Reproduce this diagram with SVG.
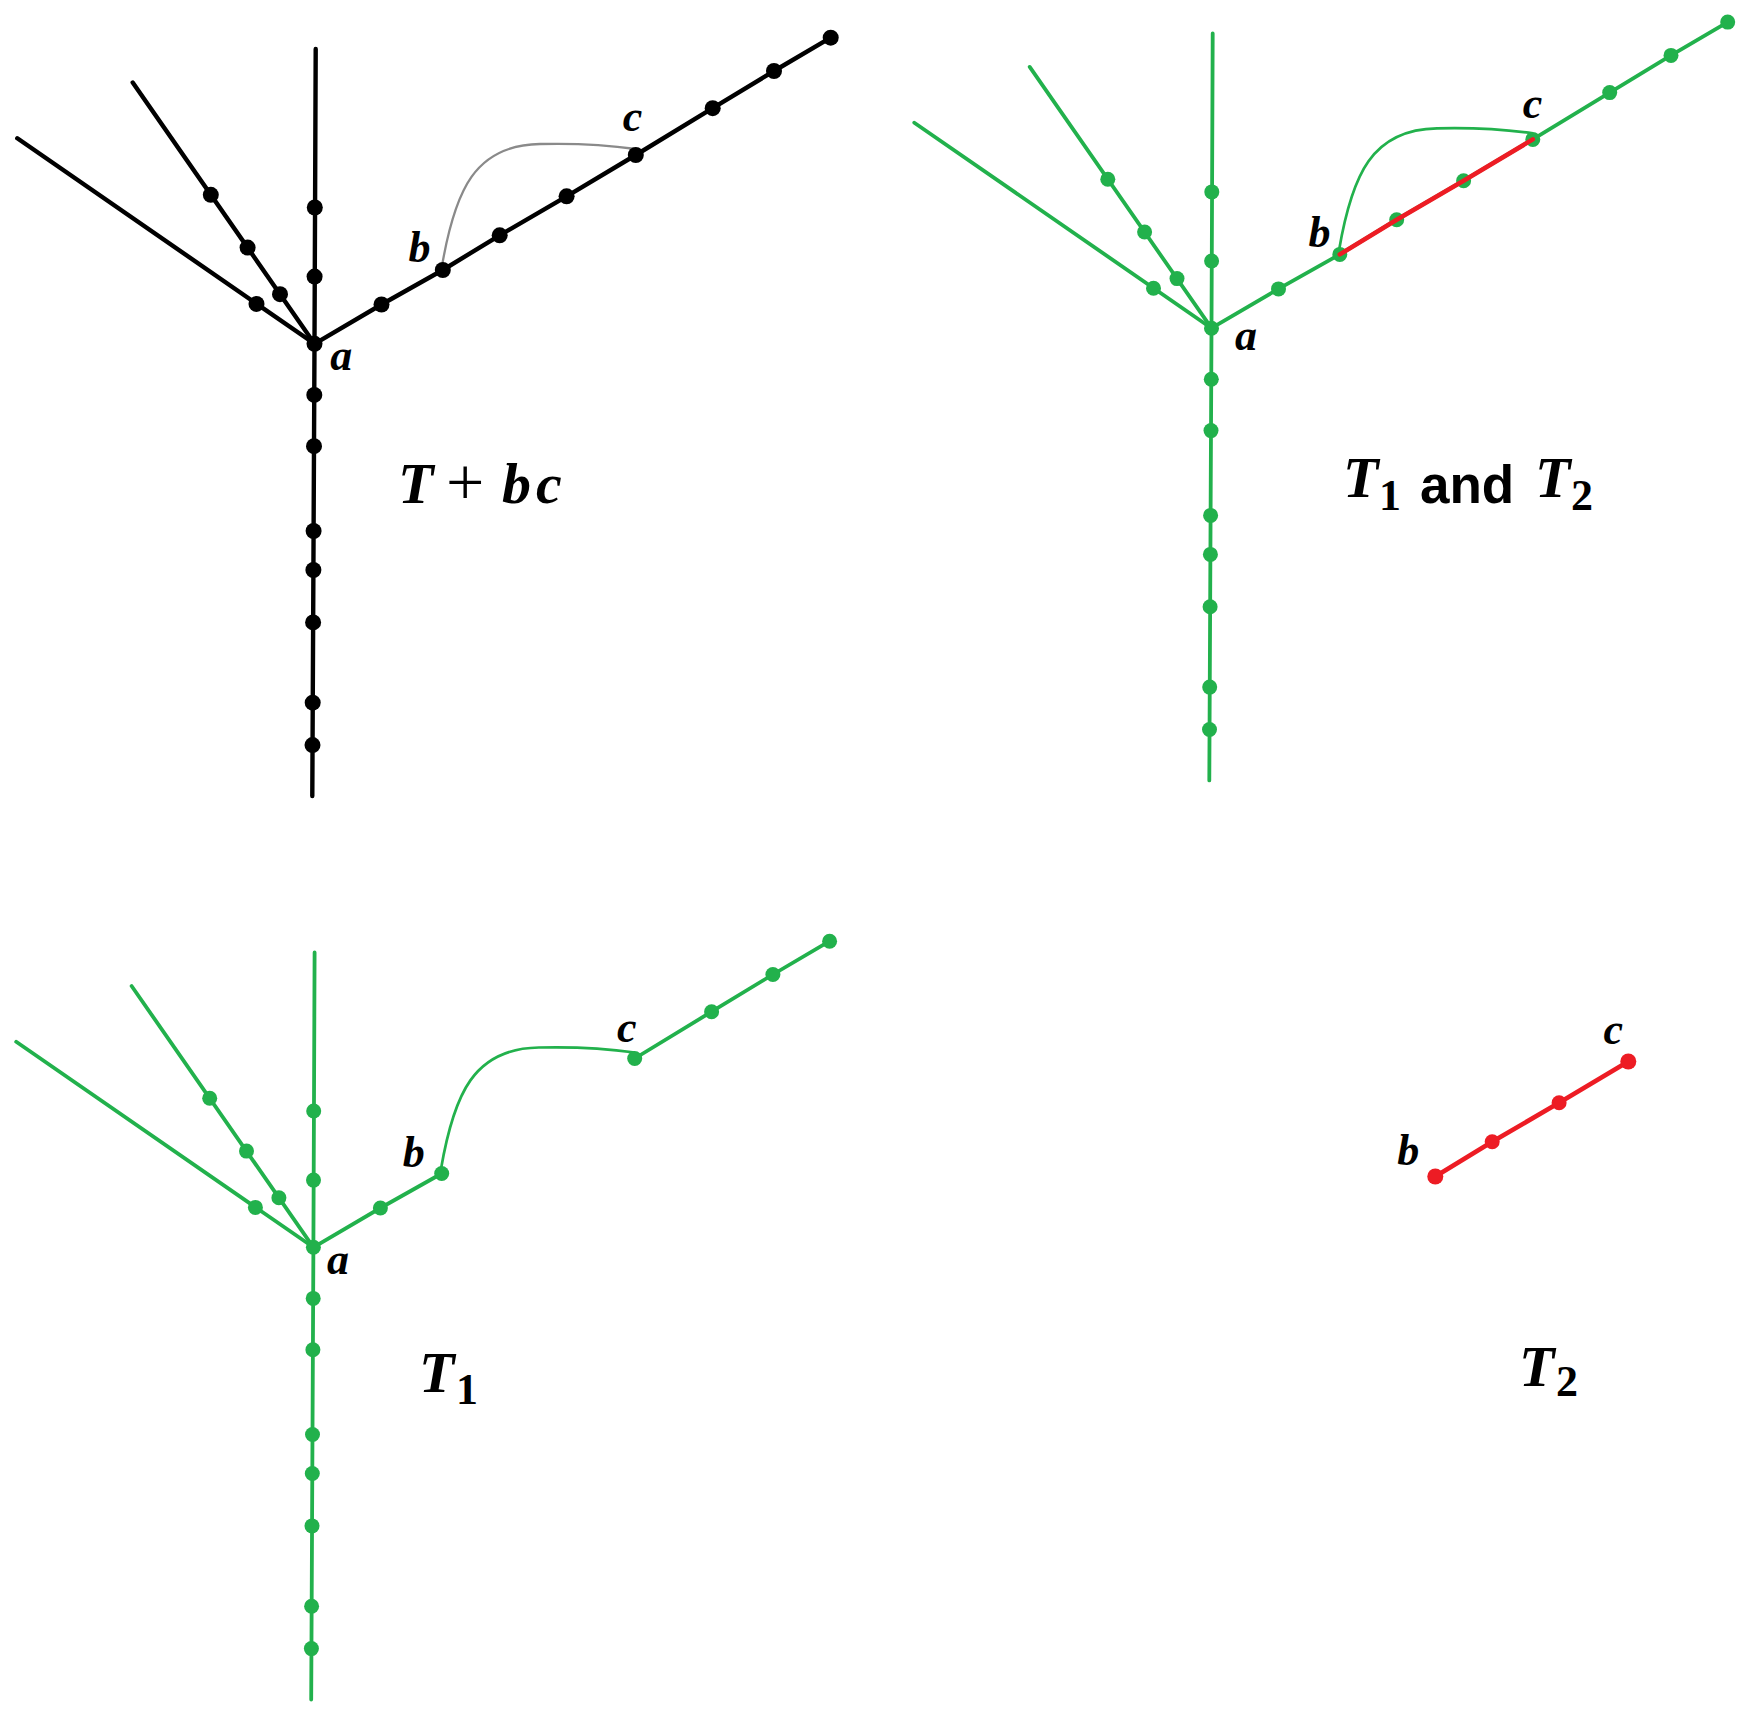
<svg xmlns="http://www.w3.org/2000/svg" width="1749" height="1714" viewBox="0 0 1749 1714">
<style>
.bk{stroke:#000;stroke-width:4.4;fill:none;stroke-linecap:round;stroke-linejoin:round}
.gr{stroke:#22b14c;stroke-width:3.8;fill:none;stroke-linecap:round;stroke-linejoin:round}
.rd{stroke:#ed1c24;stroke-width:4.6;fill:none;stroke-linecap:round;stroke-linejoin:round}
.cgray{stroke:#8a8a8a;stroke-width:2.3;fill:none}
.cgreen{stroke:#22b14c;stroke-width:2.7;fill:none}
.dk circle{fill:#000}
.dg circle{fill:#22b14c}
.dr circle{fill:#ed1c24}
.lbl{font-family:"Liberation Serif",serif;font-style:italic;font-weight:bold;font-size:44px;fill:#000;text-anchor:middle}
.big{font-family:"Liberation Serif",serif;font-style:italic;font-weight:bold;font-size:58px;fill:#000}
.sub{font-family:"Liberation Serif",serif;font-weight:bold;font-size:44px;fill:#000}
.plus{font-family:"Liberation Serif",serif;font-size:68px;fill:#000}
.and{font-family:"Liberation Sans",Arial,sans-serif;font-weight:bold;font-size:53px;fill:#000}
</style>
<rect width="1749" height="1714" fill="#fff"/>

<!-- Panel 1: T + bc -->
<g id="panel1">
 <g id="p1-edges">
  <polyline class="bk" points="315.7,49 314.5,343.8 312.3,796"/>
  <line class="bk" x1="17.3" y1="138.3" x2="314.5" y2="343.8"/>
  <line class="bk" x1="132.7" y1="82.5" x2="314.5" y2="343.8"/>
  <polyline class="bk" points="314.5,343.8 381.5,304.5 442.8,270 499.7,235.3 566.6,196.3 635.8,155 712.7,108.2 774,71 830.7,37.7"/>
  <path class="cgray" d="M442,266 C455,190 475,145 540,144 C580,143 615,146 636,149"/>
 </g>
 <g id="p1-nodes" class="dk">
  <g id="p1-a"><circle cx="314.5" cy="343.8" r="8"/></g>
  <g id="p1-u1"><circle cx="314.8" cy="207.5" r="8"/></g>
  <g id="p1-u2"><circle cx="314.6" cy="276.6" r="8"/></g>
  <g id="p1-d1"><circle cx="314.3" cy="394.9" r="8"/></g>
  <g id="p1-d2"><circle cx="314.0" cy="446.2" r="8"/></g>
  <g id="p1-d3"><circle cx="313.6" cy="531" r="8"/></g>
  <g id="p1-d4"><circle cx="313.4" cy="570" r="8"/></g>
  <g id="p1-d5"><circle cx="313.1" cy="622.4" r="8"/></g>
  <g id="p1-d6"><circle cx="312.7" cy="702.7" r="8"/></g>
  <g id="p1-d7"><circle cx="312.5" cy="745.1" r="8"/></g>
  <g id="p1-l1"><circle cx="256.5" cy="303.9" r="8"/></g>
  <g id="p1-l2a"><circle cx="210.8" cy="194.8" r="8"/></g>
  <g id="p1-l2b"><circle cx="247.6" cy="247.6" r="8"/></g>
  <g id="p1-l2c"><circle cx="280" cy="294.2" r="8"/></g>
  <g id="p1-r1"><circle cx="381.5" cy="304.5" r="8"/></g>
  <g id="p1-b"><circle cx="442.8" cy="270" r="8"/></g>
  <g id="p1-r3"><circle cx="499.7" cy="235.3" r="8"/></g>
  <g id="p1-r4"><circle cx="566.6" cy="196.3" r="8"/></g>
  <g id="p1-c"><circle cx="635.8" cy="155" r="8"/></g>
  <g id="p1-r6"><circle cx="712.7" cy="108.2" r="8"/></g>
  <g id="p1-r7"><circle cx="774" cy="71" r="8"/></g>
  <g id="p1-r8"><circle cx="830.7" cy="37.7" r="8"/></g>
 </g>
 <text class="lbl" x="341.3" y="370">a</text>
 <text class="lbl" x="419.4" y="262">b</text>
 <text class="lbl" x="632.4" y="131">c</text>
 <text class="big" x="398" y="503">T</text>
 <text class="plus" x="446" y="505">+</text>
 <text class="big" x="502" y="503">b</text>
 <text class="big" x="536" y="503">c</text>
</g>

<!-- Panel 2: T1 and T2 -->
<g id="panel2">
 <g id="p2-edges" transform="translate(897,-15.6)">
  <polyline class="gr" points="315.7,49 314.5,343.8 312.3,796"/>
  <line class="gr" x1="17.3" y1="138.3" x2="314.5" y2="343.8"/>
  <line class="gr" x1="132.7" y1="82.5" x2="314.5" y2="343.8"/>
  <polyline class="gr" points="314.5,343.8 381.5,304.5 442.8,270 499.7,235.3 566.6,196.3 635.8,155 712.7,108.2 774,71 830.7,37.7"/>
  <path class="cgreen" d="M442,266 C455,190 475,145 540,144 C580,143 615,146 636,149"/>
 </g>
 <g id="p2-nodes" class="dg" transform="translate(897,-15.6)">
  <g id="p2-a"><circle cx="314.5" cy="343.8" r="7.5"/></g>
  <g id="p2-u1"><circle cx="314.8" cy="207.5" r="7.5"/></g>
  <g id="p2-u2"><circle cx="314.6" cy="276.6" r="7.5"/></g>
  <g id="p2-d1"><circle cx="314.3" cy="394.9" r="7.5"/></g>
  <g id="p2-d2"><circle cx="314.0" cy="446.2" r="7.5"/></g>
  <g id="p2-d3"><circle cx="313.6" cy="531" r="7.5"/></g>
  <g id="p2-d4"><circle cx="313.4" cy="570" r="7.5"/></g>
  <g id="p2-d5"><circle cx="313.1" cy="622.4" r="7.5"/></g>
  <g id="p2-d6"><circle cx="312.7" cy="702.7" r="7.5"/></g>
  <g id="p2-d7"><circle cx="312.5" cy="745.1" r="7.5"/></g>
  <g id="p2-l1"><circle cx="256.5" cy="303.9" r="7.5"/></g>
  <g id="p2-l2a"><circle cx="210.8" cy="194.8" r="7.5"/></g>
  <g id="p2-l2b"><circle cx="247.6" cy="247.6" r="7.5"/></g>
  <g id="p2-l2c"><circle cx="280" cy="294.2" r="7.5"/></g>
  <g id="p2-r1"><circle cx="381.5" cy="304.5" r="7.5"/></g>
  <g id="p2-b"><circle cx="442.8" cy="270" r="7.5"/></g>
  <g id="p2-r3"><circle cx="499.7" cy="235.3" r="7.5"/></g>
  <g id="p2-r4"><circle cx="566.6" cy="196.3" r="7.5"/></g>
  <g id="p2-c"><circle cx="635.8" cy="155" r="7.5"/></g>
  <g id="p2-r6"><circle cx="712.7" cy="108.2" r="7.5"/></g>
  <g id="p2-r7"><circle cx="774" cy="71" r="7.5"/></g>
  <g id="p2-r8"><circle cx="830.7" cy="37.7" r="7.5"/></g>
 </g>
 <g id="p2-red" transform="translate(897,-15.6)">
  <polyline class="rd" points="442.8,270 499.7,235.3 566.6,196.3 635.8,155"/>
 </g>
 <text class="lbl" x="1245.9" y="350">a</text>
 <text class="lbl" x="1319.5" y="247">b</text>
 <text class="lbl" x="1532.6" y="118">c</text>
 <text class="big" x="1343" y="497">T</text>
 <text class="sub" x="1379" y="510">1</text>
 <text class="and" x="1420" y="503.3">and</text>
 <text class="big" x="1535" y="497">T</text>
 <text class="sub" x="1571" y="510">2</text>
</g>

<!-- Panel 3: T1 -->
<g id="panel3">
 <g id="p3-edges" transform="translate(-1.1,903.5)">
  <polyline class="gr" points="315.7,49 314.5,343.8 312.3,796"/>
  <line class="gr" x1="17.3" y1="138.3" x2="314.5" y2="343.8"/>
  <line class="gr" x1="132.7" y1="82.5" x2="314.5" y2="343.8"/>
  <polyline class="gr" points="314.5,343.8 381.5,304.5 442.8,270"/>
  <polyline class="gr" points="635.8,155 712.7,108.2 774,71 830.7,37.7"/>
  <path class="cgreen" d="M442,266 C455,190 475,145 540,144 C580,143 615,146 636,149"/>
 </g>
 <g id="p3-nodes" class="dg" transform="translate(-1.1,903.5)">
  <g id="p3-a"><circle cx="314.5" cy="343.8" r="7.5"/></g>
  <g id="p3-u1"><circle cx="314.8" cy="207.5" r="7.5"/></g>
  <g id="p3-u2"><circle cx="314.6" cy="276.6" r="7.5"/></g>
  <g id="p3-d1"><circle cx="314.3" cy="394.9" r="7.5"/></g>
  <g id="p3-d2"><circle cx="314.0" cy="446.2" r="7.5"/></g>
  <g id="p3-d3"><circle cx="313.6" cy="531" r="7.5"/></g>
  <g id="p3-d4"><circle cx="313.4" cy="570" r="7.5"/></g>
  <g id="p3-d5"><circle cx="313.1" cy="622.4" r="7.5"/></g>
  <g id="p3-d6"><circle cx="312.7" cy="702.7" r="7.5"/></g>
  <g id="p3-d7"><circle cx="312.5" cy="745.1" r="7.5"/></g>
  <g id="p3-l1"><circle cx="256.5" cy="303.9" r="7.5"/></g>
  <g id="p3-l2a"><circle cx="210.8" cy="194.8" r="7.5"/></g>
  <g id="p3-l2b"><circle cx="247.6" cy="247.6" r="7.5"/></g>
  <g id="p3-l2c"><circle cx="280" cy="294.2" r="7.5"/></g>
  <g id="p3-r1"><circle cx="381.5" cy="304.5" r="7.5"/></g>
  <g id="p3-b"><circle cx="442.8" cy="270" r="7.5"/></g>
  <g id="p3-c"><circle cx="635.8" cy="155" r="7.5"/></g>
  <g id="p3-r6"><circle cx="712.7" cy="108.2" r="7.5"/></g>
  <g id="p3-r7"><circle cx="774" cy="71" r="7.5"/></g>
  <g id="p3-r8"><circle cx="830.7" cy="37.7" r="7.5"/></g>
 </g>
 <text class="lbl" x="338" y="1274">a</text>
 <text class="lbl" x="413.8" y="1167">b</text>
 <text class="lbl" x="626.8" y="1042">c</text>
 <text class="big" x="419" y="1392">T</text>
 <text class="sub" x="456" y="1404">1</text>
</g>

<!-- Panel 4: T2 -->
<g id="panel4">
 <g id="p4-edges" transform="translate(992.5,906.5)">
  <polyline class="rd" points="442.8,270 499.7,235.3 566.6,196.3 635.8,155"/>
 </g>
 <g id="p4-nodes" class="dr" transform="translate(992.5,906.5)">
  <g id="p4-b"><circle cx="442.8" cy="270" r="8"/></g>
  <g id="p4-m1"><circle cx="499.7" cy="235.3" r="7.5"/></g>
  <g id="p4-m2"><circle cx="566.6" cy="196.3" r="7.5"/></g>
  <g id="p4-c"><circle cx="635.8" cy="155" r="8"/></g>
 </g>
 <text class="lbl" x="1408.3" y="1165">b</text>
 <text class="lbl" x="1613.3" y="1044">c</text>
 <text class="big" x="1519" y="1386">T</text>
 <text class="sub" x="1556" y="1396">2</text>
</g>
</svg>
